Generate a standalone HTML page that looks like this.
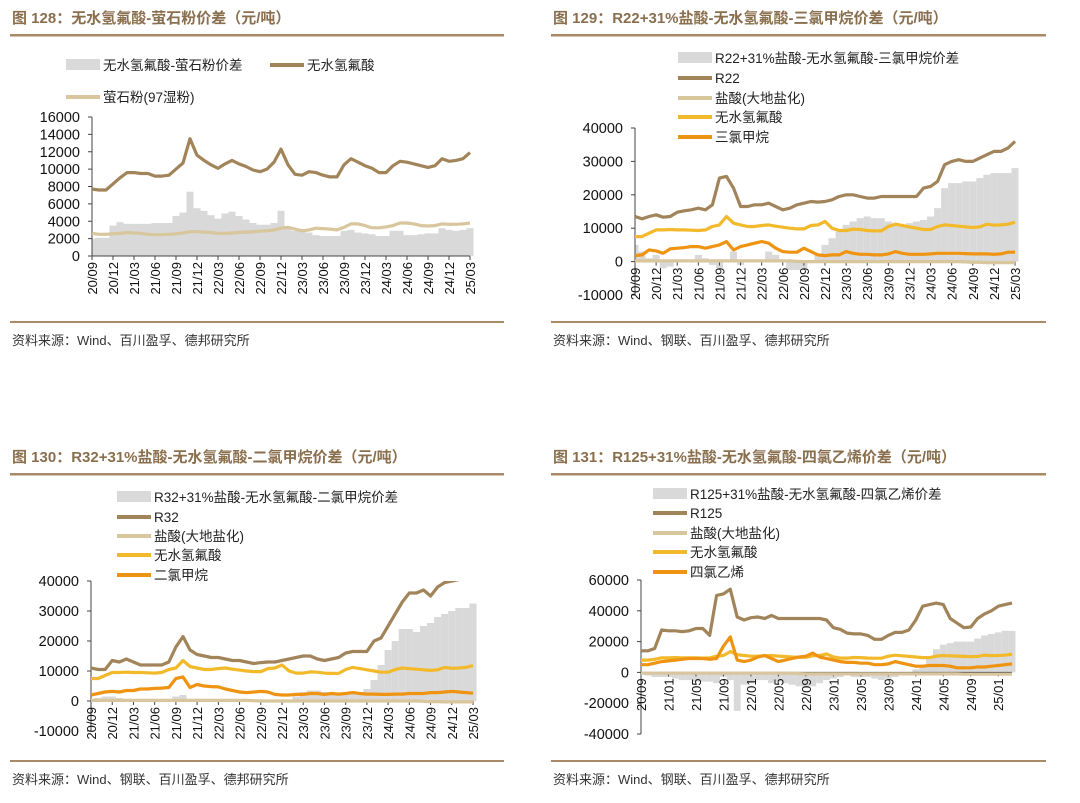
<!DOCTYPE html>
<html><head><meta charset="utf-8"><style>
html,body{margin:0;padding:0;background:#fff;width:1080px;height:803px;overflow:hidden}
svg text{font-family:"Liberation Sans","Noto Sans CJK SC",sans-serif}
</style></head><body>
<svg id="s" width="1080" height="803" xmlns="http://www.w3.org/2000/svg"></svg>
<script>
// ---- data: months 20/09 .. 25/03 (55 points) ----
const c1HF=[7700,7600,7600,8300,9000,9600,9600,9500,9500,9200,9200,9300,10000,10700,13500,11600,11000,10500,10100,10600,11000,10600,10300,9900,9700,10000,10800,12300,10500,9400,9300,9700,9600,9300,9100,9100,10500,11200,10800,10400,10100,9600,9600,10400,10900,10800,10600,10400,10200,10400,11200,10900,11000,11200,11900];
const c1Fluorite=[2600,2500,2500,2550,2600,2700,2650,2600,2500,2450,2450,2500,2550,2650,2800,2800,2750,2700,2600,2600,2650,2700,2750,2800,2850,2900,3000,3200,3300,3100,2900,3000,3200,3150,3100,3000,3300,3700,3700,3500,3250,3250,3350,3500,3800,3800,3700,3500,3450,3500,3700,3650,3650,3700,3800];
const c1Spread=[2000,2100,2100,3500,3900,3700,3700,3700,3700,3800,3800,3800,4600,5000,7400,5500,5200,4700,4300,4900,5100,4600,4200,3800,3600,3600,3800,5200,3300,2900,2800,2700,2400,2300,2300,2300,2900,3000,2700,2600,2500,2300,2300,2900,2900,2400,2400,2500,2600,2600,3200,3000,2900,3000,3200];
const c1Ticks=[0,2000,4000,6000,8000,10000,12000,14000,16000];
const qLabels=["20/09","20/12","21/03","21/06","21/09","21/12","22/03","22/06","22/09","22/12","23/03","23/06","23/09","23/12","24/03","24/06","24/09","24/12","25/03"];

const c2R22=[13500,12800,13500,14000,13300,13500,14800,15200,15500,16000,15500,17000,25000,25500,22000,16500,16500,17000,17000,17500,16500,15500,16000,17000,17500,18000,17800,18000,18500,19500,20000,20000,19500,19000,19000,19500,19500,19500,19500,19500,19500,22000,22500,24000,29000,30000,30500,30000,30000,31000,32000,33000,33000,34000,36000];
const c2HF=[7500,7500,8500,9500,9500,9600,9500,9500,9400,9300,9500,10500,11000,13500,11500,11000,10500,10500,10800,11000,10600,10300,10000,9800,9800,10800,11000,12000,10000,9300,9300,9700,9600,9300,9200,9200,10500,11200,10800,10400,10000,9600,9600,10500,11000,10800,10600,10400,10200,10400,11200,10900,11000,11200,11800];
const c2CHCl3=[1800,2000,3500,3200,2500,3800,4000,4200,4500,4500,4000,4500,5000,6000,3500,4500,5000,5500,6000,5500,4000,3000,2800,2800,4000,3000,2000,1800,2000,2000,3000,2500,2200,2200,2000,2000,2300,3000,2500,2200,2200,2200,2300,2500,2500,2500,2500,2400,2300,2300,2300,2200,2300,2800,2800];
const c2HCl=[200,200,200,200,200,200,200,200,200,200,200,200,200,200,200,200,200,200,200,200,200,200,200,100,0,0,0,0,0,0,0,0,0,0,0,0,0,0,0,0,0,0,0,0,0,0,0,-100,-200,-200,-300,-300,-300,-300,-300];
const c2Spread=[5000,3000,1000,2000,-2000,-1500,0,0,0,2000,1000,-1000,-2000,0,3000,-1000,0,0,0,3000,2000,0,-2500,-2500,-2000,0,2000,5000,7000,9000,11000,12000,13000,13500,13000,13000,12000,11000,11000,11500,12000,12500,13500,16000,22000,23500,23500,24000,24000,25000,26000,26500,26500,26500,28000];
const c2Ticks=[-10000,0,10000,20000,30000,40000];

const c3R32=[11000,10500,10500,13500,13000,14000,13000,12000,12000,12000,12000,13000,18000,21500,17000,15500,15000,14500,14500,14000,13500,13500,13000,12500,12800,13000,13000,13500,14000,14500,15000,15000,14000,13500,14000,14500,16000,16500,16500,16500,20000,21000,25000,29000,33000,36000,36000,37000,35000,38000,39500,40000,40500,41000,41000];
const c3HF=[7500,7500,8500,9500,9500,9600,9500,9500,9400,9300,9500,10500,11000,13500,11500,11000,10500,10500,10800,11000,10600,10300,10000,9800,9800,10800,11000,12000,10000,9300,9300,9700,9600,9300,9200,9200,10500,11200,10800,10400,10000,9600,9600,10500,11000,10800,10600,10400,10200,10400,11200,10900,11000,11200,11800];
const c3CH2Cl2=[2000,2500,3000,3200,3000,3500,3500,4000,4000,4200,4300,4500,7500,8000,4500,5500,5000,4800,4700,4000,3500,3000,2800,3000,3200,3000,2200,2000,2000,2200,2200,2500,2500,2200,2500,2300,2500,2800,2500,2300,2300,2200,2200,2300,2300,2500,2500,2500,2800,2800,3000,3200,3000,2800,2600];
const c3HCl=[200,200,200,200,200,200,200,200,200,200,200,200,200,200,200,200,200,200,200,200,200,200,200,100,0,0,0,0,0,0,0,0,0,0,0,0,0,0,0,0,0,0,0,0,0,0,0,-100,-200,-200,-300,-300,-300,-300,-300];
const c3Spread=[500,1000,1500,1500,1000,500,300,0,0,0,0,500,1500,2000,500,200,0,0,0,0,0,0,0,0,0,0,0,0,500,1500,3000,3500,3500,3000,2500,2500,2500,2800,3000,4000,7000,12000,17000,20000,24000,24000,23000,25000,26000,28000,29000,30000,31000,31000,32500];
const c3Ticks=[-10000,0,10000,20000,30000,40000];

const c4R125=[14000,14000,15500,27500,27000,27000,26500,27000,28500,28500,24000,50000,51000,54000,36000,34000,35500,36000,35000,37000,35000,35000,35000,35000,35000,35000,35000,34000,29000,28000,25500,25000,25000,24000,21500,21500,24000,26000,26000,27500,34000,43000,44000,45000,44000,35000,32000,29000,29500,35000,38000,40000,43000,44000,45000];
const c4HF=[8000,8000,8500,9500,9500,9600,9500,9500,9400,9300,9500,10500,11000,13500,11500,11000,10500,10500,10800,11000,10600,10300,10000,9800,9800,10800,11000,12000,10000,9300,9300,9700,9600,9300,9200,9200,10500,11200,10800,10400,10000,9600,9600,10500,11000,10800,10600,10400,10200,10400,11200,10900,11000,11200,11800];
const c4PCE=[5000,5000,6000,7000,7500,8000,8500,9000,9000,9000,8500,9000,17000,23000,8000,7000,8000,10000,11000,9000,7000,8000,9000,10000,10500,12500,10000,9000,8000,7000,6500,6500,6000,6000,5000,5000,5500,7000,6000,5000,4000,4000,4500,4500,4500,4000,3000,3000,3000,3500,3500,4000,4500,5000,5500];
const c4HCl=[-500,-500,-500,-500,-500,-500,-500,-500,-500,-500,-500,-500,-500,-500,-500,-500,-500,-500,-500,-500,-500,-500,-500,-800,-1000,-1000,-1000,-1000,-1000,-1000,-1000,-1000,-1000,-1000,-1000,-1000,-1000,-1000,-1000,-1000,-1000,-1000,-1000,-1000,-1000,-1000,-1000,-1200,-1200,-1200,-1200,-1200,-1200,-1200,-1200];
const c4Spread=[0,-2000,-3000,-3000,-3000,-4000,-5000,-5000,-6000,-6000,-6000,-7000,-3000,-5000,-25000,-8000,-7000,-5000,-5000,-7000,-6000,-7000,-8000,-9000,-10000,-9000,-7000,-5000,-4000,-3000,-2000,-3000,-3000,-3000,-4000,-5000,-4000,-3000,-2000,-1000,2000,5000,10000,15000,18000,19000,20000,20000,20000,22000,24000,25000,26000,27000,27000];
const c4Ticks=[-40000,-20000,0,20000,40000,60000];
const c4Labels=["20/09","21/01","21/05","21/09","22/01","22/05","22/09","23/01","23/05","23/09","24/01","24/05","24/09","25/01"];

const NS="http://www.w3.org/2000/svg";
const S=document.getElementById('s');
function el(tag,attrs,parent,text){const e=document.createElementNS(NS,tag);for(const k in attrs)e.setAttribute(k,attrs[k]);if(text!==undefined)e.textContent=text;(parent||S).appendChild(e);return e;}

const BROWN="#a2845a",BEIGE="#d8c69c",YEL="#f2b92b",ORA="#ef9412",GREY="#d9d9d9",TITLE="#8a6f4e",RULE="#a88b66";

function frame(x0,y0,w,title,src,name){
  const t=el('text',{x:x0+2,y:y0+23,'font-size':15,'font-weight':'bold',fill:TITLE},S,title);
  
  const r1=el('rect',{x:x0,y:y0+34,width:w,height:2.5,fill:RULE});
  
  const r2=el('rect',{x:x0,y:y0+321,width:w,height:2,fill:RULE});
  
  const s=el('text',{x:x0+2,y:y0+345,'font-size':13,fill:'#333'},S,src);
  
}

function legend(g,x,y,type,color,label){
  const e=el('g',{},g);
  
  if(type==='bar') el('rect',{x:x,y:y-6,width:34,height:11,fill:color},e);
  else el('line',{x1:x,y1:y,x2:x+34,y2:y,stroke:color,'stroke-width':4},e);
  el('text',{x:x+37,y:y+5,'font-size':13.5,fill:'#222'},e,label);
}

function chart(cfg){
  const g=el('g',{});
  
  const n=cfg.n, X=i=>cfg.x0+(cfg.x1-cfg.x0)*i/(n-1);
  const Y=v=>cfg.yTop+(cfg.ymax-v)*(cfg.yBot-cfg.yTop)/(cfg.ymax-cfg.ymin);
  const cid='clip-'+cfg.name;
  const cp=el('clipPath',{id:cid},g);el('rect',{x:cfg.x0,y:cfg.yTop,width:cfg.x1-cfg.x0+6,height:cfg.yBot-cfg.yTop},cp);
  // spread bars
  const bw=(cfg.x1-cfg.x0)/(n-1);
  const bars=el('g',{'clip-path':`url(#${cid})`},g);
  
  cfg.bars.forEach((v,i)=>{
    const y=Y(v),y0=Y(0);
    const r=el('rect',{x:X(i)-bw/2+ (i===0?bw/2:0),y:Math.min(y,y0),width:i===0?bw/2:bw,height:Math.abs(y0-y),fill:GREY},bars);
    
    
  });
  // axes
  const ya=el('line',{x1:cfg.x0,y1:cfg.yTop,x2:cfg.x0,y2:cfg.yBot,stroke:'#444','stroke-width':1},g);
  
  const xa=el('line',{x1:cfg.x0,y1:Y(0),x2:cfg.x1,y2:Y(0),stroke:'#444','stroke-width':1},g);
  
  cfg.ticks.forEach(t=>{
    el('line',{x1:cfg.x0-4,y1:Y(t),x2:cfg.x0,y2:Y(t),stroke:'#444'},g);
    const tl=el('text',{x:cfg.x0-12,y:Y(t)+5,'font-size':14.5,'text-anchor':'end',fill:'#111'},g,String(t));
    
  });
  const step=cfg.labelStep;
  cfg.labels.forEach((lab,k)=>{
    const xi=X(k*step);
    el('line',{x1:xi,y1:Y(0),x2:xi,y2:Y(0)+4,stroke:'#444'},g);
    const tx=xi+5, ty=Y(0)+6;
    const tl=el('text',{x:tx,y:ty,'font-size':13,'text-anchor':'end',fill:'#111',transform:`rotate(-90 ${tx} ${ty})`},g,lab);
    
  });
  // lines
  const lg=el('g',{'clip-path':`url(#${cid})`},g);
  cfg.lines.forEach(L=>{
    let d='';L.data.forEach((v,i)=>{d+=(i?'L':'M')+X(i).toFixed(1)+','+Y(v).toFixed(1);});
    const p=el('path',{d:d,fill:'none',stroke:L.color,'stroke-width':3.2,'stroke-linejoin':'round'},lg);
    
  });
  // legend
  cfg.legend.forEach(l=>legend(g,l[0],l[1],l[2],l[3],l[4]));
}

frame(10,0,494,"图 128：无水氢氟酸-萤石粉价差（元/吨）","资料来源：Wind、百川盈孚、德邦研究所","fig128");
frame(551,0,495,"图 129：R22+31%盐酸-无水氢氟酸-三氯甲烷价差（元/吨）","资料来源：Wind、钢联、百川盈孚、德邦研究所","fig129");
frame(10,439,494,"图 130：R32+31%盐酸-无水氢氟酸-二氯甲烷价差（元/吨）","资料来源：Wind、钢联、百川盈孚、德邦研究所","fig130");
frame(551,439,495,"图 131：R125+31%盐酸-无水氢氟酸-四氯乙烯价差（元/吨）","资料来源：Wind、钢联、百川盈孚、德邦研究所","fig131");

chart({name:'chart-128',n:55,x0:92,x1:470,yTop:117,yBot:256,ymin:0,ymax:16000,ticks:c1Ticks,labels:qLabels,labelStep:3,
  bars:c1Spread,lines:[{id:'line-fluorite',data:c1Fluorite,color:BEIGE},{id:'line-hf',data:c1HF,color:BROWN}],
  legend:[[66,65,'bar',GREY,'无水氢氟酸-萤石粉价差'],[270,65,'line',BROWN,'无水氢氟酸'],[66,97,'line',BEIGE,'萤石粉(97湿粉)']]});
chart({name:'chart-129',n:55,x0:635,x1:1015,yTop:128,yBot:295,ymin:-10000,ymax:40000,ticks:c2Ticks,labels:qLabels,labelStep:3,
  bars:c2Spread,lines:[{id:'line-hcl',data:c2HCl,color:BEIGE},{id:'line-chcl3',data:c2CHCl3,color:ORA},{id:'line-hf',data:c2HF,color:YEL},{id:'line-r22',data:c2R22,color:BROWN}],
  legend:[[678,58,'bar',GREY,'R22+31%盐酸-无水氢氟酸-三氯甲烷价差'],[678,78,'line',BROWN,'R22'],[678,98,'line',BEIGE,'盐酸(大地盐化)'],[678,117,'line',YEL,'无水氢氟酸'],[678,137,'line',ORA,'三氯甲烷']]});
chart({name:'chart-130',n:55,x0:91,x1:473,yTop:581,yBot:731,ymin:-10000,ymax:40000,ticks:c3Ticks,labels:qLabels,labelStep:3,
  bars:c3Spread,lines:[{id:'line-hcl',data:c3HCl,color:BEIGE},{id:'line-ch2cl2',data:c3CH2Cl2,color:ORA},{id:'line-hf',data:c3HF,color:YEL},{id:'line-r32',data:c3R32,color:BROWN}],
  legend:[[117,497,'bar',GREY,'R32+31%盐酸-无水氢氟酸-二氯甲烷价差'],[117,517,'line',BROWN,'R32'],[117,536,'line',BEIGE,'盐酸(大地盐化)'],[117,555,'line',YEL,'无水氢氟酸'],[117,575,'line',ORA,'二氯甲烷']]});
chart({name:'chart-131',n:55,x0:641,x1:1012,yTop:580,yBot:734,ymin:-40000,ymax:60000,ticks:c4Ticks,labels:c4Labels,labelStep:4,
  bars:c4Spread,lines:[{id:'line-hcl',data:c4HCl,color:BEIGE},{id:'line-hf',data:c4HF,color:YEL},{id:'line-pce',data:c4PCE,color:ORA},{id:'line-r125',data:c4R125,color:BROWN}],
  legend:[[653,494,'bar',GREY,'R125+31%盐酸-无水氢氟酸-四氯乙烯价差'],[653,513,'line',BROWN,'R125'],[653,533,'line',BEIGE,'盐酸(大地盐化)'],[653,552,'line',YEL,'无水氢氟酸'],[653,572,'line',ORA,'四氯乙烯']]});
</script>
</body></html>
